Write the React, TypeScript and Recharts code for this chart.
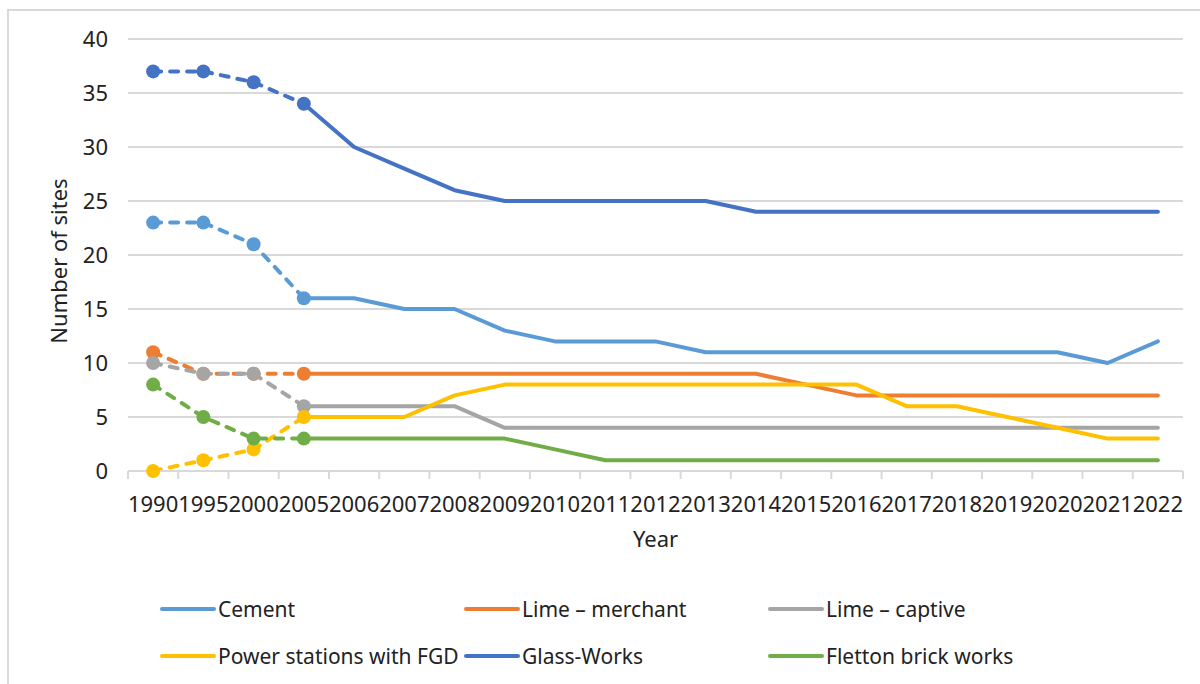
import React from 'react';
import { LineChart, Line, XAxis, YAxis, CartesianGrid, Legend } from 'recharts';

const years = ['1990', '1995', '2000', '2005', '2006', '2007', '2008', '2009', '2010', '2011', '2012', '2013', '2014', '2015', '2016', '2017', '2018', '2019', '2020', '2021', '2022'];
const cement = [23, 23, 21, 16, 16, 15, 15, 13, 12, 12, 12, 11, 11, 11, 11, 11, 11, 11, 11, 10, 12];
const limeMerchant = [11, 9, 9, 9, 9, 9, 9, 9, 9, 9, 9, 9, 9, 8, 7, 7, 7, 7, 7, 7, 7];
const limeCaptive = [10, 9, 9, 6, 6, 6, 6, 4, 4, 4, 4, 4, 4, 4, 4, 4, 4, 4, 4, 4, 4];
const powerFGD = [0, 1, 2, 5, 5, 5, 7, 8, 8, 8, 8, 8, 8, 8, 8, 6, 6, 5, 4, 3, 3];
const glassWorks = [37, 37, 36, 34, 30, 28, 26, 25, 25, 25, 25, 25, 24, 24, 24, 24, 24, 24, 24, 24, 24];
const fletton = [8, 5, 3, 3, 3, 3, 3, 3, 2, 1, 1, 1, 1, 1, 1, 1, 1, 1, 1, 1, 1];
const yTicks = [0, 5, 10, 15, 20, 25, 30, 35, 40];
const historicCount = 4; // 1990, 1995, 2000, 2005 drawn dashed with markers

const series = [
  { key: 'cement', name: 'Cement', values: cement, color: '#5B9BD5' },
  { key: 'limeMerchant', name: 'Lime \u2013 merchant', values: limeMerchant, color: '#ED7D31' },
  { key: 'limeCaptive', name: 'Lime \u2013 captive', values: limeCaptive, color: '#A5A5A5' },
  { key: 'powerFGD', name: 'Power stations with FGD', values: powerFGD, color: '#FFC000' },
  { key: 'glassWorks', name: 'Glass-Works', values: glassWorks, color: '#4472C4' },
  { key: 'fletton', name: 'Fletton brick works', values: fletton, color: '#70AD47' },
];

const data = years.map((year, i) => {
  const row: Record<string, string | number | null> = { year };
  series.forEach((s) => {
    row[s.key + '_hist'] = i < historicCount ? s.values[i] : null;
    row[s.key] = i >= historicCount - 1 ? s.values[i] : null;
  });
  return row;
});

const FONT = "'Noto Sans', sans-serif";
const TEXT = '#222222';
const GRID = '#d9d9d9';
const W = 1200;
const H = 684;
const MARGIN = { top: 39, right: 17, left: 0, bottom: 133 };
const Y_WIDTH = 128;
const X_HEIGHT = 80;
const BAND = (W - MARGIN.left - MARGIN.right - Y_WIDTH) / years.length;

const XTick = (props: any) => {
  const { x, y, payload, index } = props;
  const half = BAND / 2;
  return (
    <g>
      <line x1={x - half} x2={x - half} y1={y} y2={y + 8} stroke={GRID} strokeWidth={2} />
      {index === years.length - 1 && (
        <line x1={x + half} x2={x + half} y1={y} y2={y + 8} stroke={GRID} strokeWidth={2} />
      )}
      <text x={x} y={y + 41} textAnchor="middle" fontSize={22} fill={TEXT} fontFamily={FONT}>
        {payload.value}
      </text>
    </g>
  );
};

const YLabel = (props: any) => {
  const vb = props.viewBox || {};
  const cx = vb.x + 58;
  const cy = vb.y + vb.height / 2 + 6;
  return (
    <text
      x={cx}
      y={cy}
      transform={`rotate(-90, ${cx}, ${cy})`}
      textAnchor="middle"
      dominantBaseline="central"
      fontSize={22}
      fill={TEXT}
      fontFamily={FONT}
    >
      Number of sites
    </text>
  );
};

const XLabel = (props: any) => {
  const vb = props.viewBox || {};
  return (
    <text
      x={vb.x + vb.width / 2}
      y={vb.y + 76}
      textAnchor="middle"
      fontSize={22}
      fill={TEXT}
      fontFamily={FONT}
    >
      Year
    </text>
  );
};

const LegendContent = (props: any) => {
  const raw = (props.payload || []).filter((p: any) => p.type !== 'none');
  const payload = series
    .map((s) => raw.find((p: any) => p.value === s.name))
    .filter(Boolean);
  return (
    <div
      style={{
        display: 'grid',
        gridTemplateColumns: '304px 304px 304px',
        gridAutoRows: '47px',
        fontFamily: FONT,
        fontSize: 21,
        color: TEXT,
      }}
    >
      {payload.map((p: any) => (
        <div key={p.value} style={{ display: 'flex', alignItems: 'center', whiteSpace: 'nowrap' }}>
          <svg width={58} height={10} style={{ flex: '0 0 auto' }}>
            <line x1={2} x2={54} y1={5} y2={5} stroke={p.color} strokeWidth={4} strokeLinecap="round" />
          </svg>
          <span>{p.value}</span>
        </div>
      ))}
    </div>
  );
};

export default function App() {
  return (
    <div style={{ position: 'absolute', left: 0, top: 0, width: W, height: H, overflow: 'hidden', background: '#fff' }}>
      <div
        style={{
          position: 'absolute',
          left: 7,
          top: 9,
          width: 1300,
          height: 800,
          borderLeft: `2px solid ${GRID}`,
          borderTop: `2px solid ${GRID}`,
        }}
      />
      <div style={{ position: 'absolute', left: 0, top: 0 }}>
        <LineChart width={W} height={H} data={data} margin={MARGIN} style={{ fontFamily: FONT }}>
          <CartesianGrid vertical={false} stroke={GRID} strokeWidth={2} />
          <XAxis
            dataKey="year"
            height={X_HEIGHT}
            interval={0}
            padding={{ left: BAND / 2, right: BAND / 2 }}
            tickLine={false}
            tickSize={0}
            tickMargin={0}
            axisLine={{ stroke: GRID, strokeWidth: 2 }}
            tick={<XTick />}
            label={<XLabel />}
          />
          <YAxis
            width={Y_WIDTH}
            domain={[0, 40]}
            ticks={yTicks}
            interval={0}
            tickLine={false}
            axisLine={false}
            tickSize={0}
            tickMargin={20}
            tick={{ fontSize: 22, fill: TEXT, fontFamily: FONT }}
            label={<YLabel />}
          />
          {series.map((s) => (
            <Line
              key={s.key + '_hist'}
              dataKey={s.key + '_hist'}
              name={s.name + ' (historic)'}
              type="linear"
              stroke={s.color}
              strokeWidth={4}
              strokeDasharray="8 9"
              strokeLinecap="round"
              dot={{ r: 7, fill: s.color, stroke: s.color, strokeWidth: 0, strokeDasharray: '' }}
              activeDot={false}
              legendType="none"
              isAnimationActive={false}
            />
          ))}
          {series.map((s) => (
            <Line
              key={s.key}
              dataKey={s.key}
              name={s.name}
              type="linear"
              stroke={s.color}
              strokeWidth={4}
              strokeLinecap="round"
              strokeLinejoin="round"
              dot={false}
              activeDot={false}
              isAnimationActive={false}
            />
          ))}
          <Legend
            layout="horizontal"
            verticalAlign="middle"
            align="center"
            itemSorter={null as any}
            wrapperStyle={{ left: 160, top: 585, width: 960, height: 100 }}
            content={<LegendContent />}
          />
        </LineChart>
      </div>
    </div>
  );
}
